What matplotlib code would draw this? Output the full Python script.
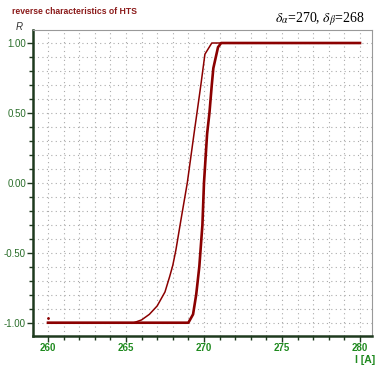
import matplotlib
matplotlib.use("Agg")
import matplotlib.pyplot as plt
from matplotlib.ticker import MultipleLocator, FormatStrFormatter

plt.rcParams["axes.unicode_minus"] = False
plt.rcParams["font.family"] = ["Liberation Sans", "DejaVu Sans"]
plt.rcParams["mathtext.fontset"] = "stix"

# forward sweep (thin curve)
i_up = [260, 265.5, 266.0, 266.5, 267.0, 267.5, 267.8, 268.0, 268.2, 268.5,
        268.93, 269.36, 269.55, 269.8, 270.06, 270.5, 280]
r_up = [-1.0, -1.0, -0.98, -0.94, -0.88, -0.78, -0.67, -0.59, -0.48, -0.28,
        0.0, 0.35, 0.5, 0.7, 0.92, 1.0, 1.0]

# reverse sweep (thick curve)
i_down = [260, 269.0, 269.3, 269.5, 269.7, 269.9, 270.0, 270.2, 270.35,
          270.5, 270.6, 270.9, 271.1, 280]
r_down = [-1.0, -1.0, -0.94, -0.8, -0.6, -0.3, 0.0, 0.35, 0.5,
          0.7, 0.82, 0.97, 1.0, 1.0]

stray_i = [260]
stray_r = [-0.965]

red = "#8b0000"
green = "#1f8a1f"

fig = plt.figure(figsize=(3.76, 3.67), dpi=100)
ax = fig.add_axes([33 / 376, 31 / 367, 339 / 376, 306 / 367])

ax.plot(i_up, r_up, color=red, lw=1.1)
ax.plot(i_down, r_down, color=red, lw=1.9)
ax.plot(stray_i, stray_r, ".", color=red, ms=2)

ax.set_xlim(259.04, 280.77)
ax.set_ylim(-1.095, 1.093)

ax.xaxis.set_major_locator(MultipleLocator(5))
ax.xaxis.set_minor_locator(MultipleLocator(1))
ax.yaxis.set_major_locator(MultipleLocator(0.5))
ax.yaxis.set_minor_locator(MultipleLocator(0.1))
ax.yaxis.set_major_formatter(FormatStrFormatter("%.2f"))

ax.grid(True, which="both", color="#aaaaaa", lw=0.8, linestyle=(0, (1, 3)))
ax.set_axisbelow(True)

for s in ["left", "bottom"]:
    ax.spines[s].set_color("#1e3a1e")
    ax.spines[s].set_linewidth(1.8)
for s in ["top", "right"]:
    ax.spines[s].set_color("#999999")
    ax.spines[s].set_linewidth(0.8)

ax.tick_params(axis="both", which="major", direction="out", length=4,
               width=1, color="#1e3a1e")
ax.tick_params(axis="both", which="minor", direction="out", length=3,
               width=1, color="#1e3a1e")
ax.tick_params(axis="x", labelsize=7, labelcolor=green, pad=1)
ax.tick_params(axis="y", labelsize=7, labelcolor="#2a6e2a", pad=1)
for lab in ax.get_xticklabels():
    lab.set_fontweight("bold")

fig.text(12 / 376, 1 - 11 / 367, "reverse characteristics of HTS",
         color="#8b1a1a", fontsize=6.2, fontweight="bold", va="center")
fig.text(19 / 376, 1 - 27 / 367, "R", fontsize=7, style="italic",
         color="#333333", ha="center", va="center")
fig.text(365 / 376, 1 - 19 / 367,
         r"$\mathit{\delta}_{\alpha}$=270, $\mathit{\delta}_{\beta}$=268",
         family="Liberation Serif", fontsize=10, ha="right", va="center")
fig.text(375 / 376, 1 - 360 / 367, "I [A]", color=green, fontsize=7.5,
         fontweight="bold", ha="right", va="center")

fig.savefig("out.png", dpi=100, facecolor="white")
